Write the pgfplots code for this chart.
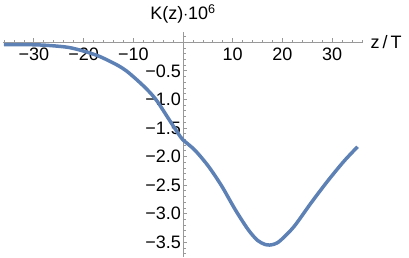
\documentclass[border=0pt]{standalone}
\usepackage{fontspec}
\setmainfont{Liberation Sans}
\usepackage{pgfplots}
\pgfplotsset{compat=1.18}
\definecolor{mblue}{rgb}{0.368417,0.506779,0.709798}
\definecolor{axgray}{gray}{0.6}
\begin{document}
\begin{tikzpicture}
\path[use as bounding box] (-3pt,0pt) rectangle (406pt,257pt);
\begin{axis}[
  at={(0pt,0pt)}, anchor=south west,
  scale only axis, width=360pt, height=225pt,
  axis lines=middle,
  xmin=-36.2, xmax=36.2, ymin=-3.76, ymax=0.18,
  axis line style={axgray, line width=0.8pt, -},
  tick style={axgray, line width=0.7pt},
  tick align=inside,
  major tick length=4pt, minor tick length=2.5pt,
  xtick={-30,-20,-10,10,20,30},
  xticklabels={−30,−20,−10,10,20,30},
  minor xtick={-36,-34,...,36},
  ytick={-3.5,-3,-2.5,-2,-1.5,-1,-0.5},
  yticklabels={−3.5,−3.0,−2.5,−2.0,−1.5,−1.0,−0.5},
  minor ytick={-3.7,-3.6,...,0.15},
  tick label style={font=\fontsize{18}{21}\selectfont, black},
  xticklabel style={anchor=north, inner sep=1pt, yshift=-4pt},
  yticklabel style={anchor=east, inner sep=1pt, xshift=-1pt},
  xlabel={z\,/\,T},
  ylabel={K(z)$\cdot$10\textsuperscript{6}},
  every axis x label/.style={at={(current axis.right of origin)}, anchor=west, xshift=4pt, font=\fontsize{18}{21}\selectfont, black},
  every axis y label/.style={at={(current axis.above origin)}, anchor=base, yshift=12pt, font=\fontsize{18}{21}\selectfont, black},
  clip=false,
]
\addplot[mblue, line width=3.5pt, smooth, tension=0.5] coordinates {
(-36,-0.04) (-32,-0.04) (-28,-0.05) (-25,-0.07) (-23,-0.09) (-21,-0.13)
(-19,-0.18) (-17,-0.24) (-15,-0.32) (-13,-0.41) (-11.4,-0.50) (-9.5,-0.64)
(-7.3,-0.82) (-5.3,-1.02) (-2.6,-1.38) (-0.6,-1.645) (0,-1.71) (2.4,-1.89)
(5.1,-2.17) (7.8,-2.52) (10.5,-2.93) (13.1,-3.28) (15,-3.47) (16.5,-3.54)
(17.5,-3.55) (18.5,-3.53) (19.6,-3.47) (22.3,-3.23) (25.7,-2.82) (29,-2.44)
(32.3,-2.09) (35.1,-1.83)
};
\end{axis}
\end{tikzpicture}
\end{document}
